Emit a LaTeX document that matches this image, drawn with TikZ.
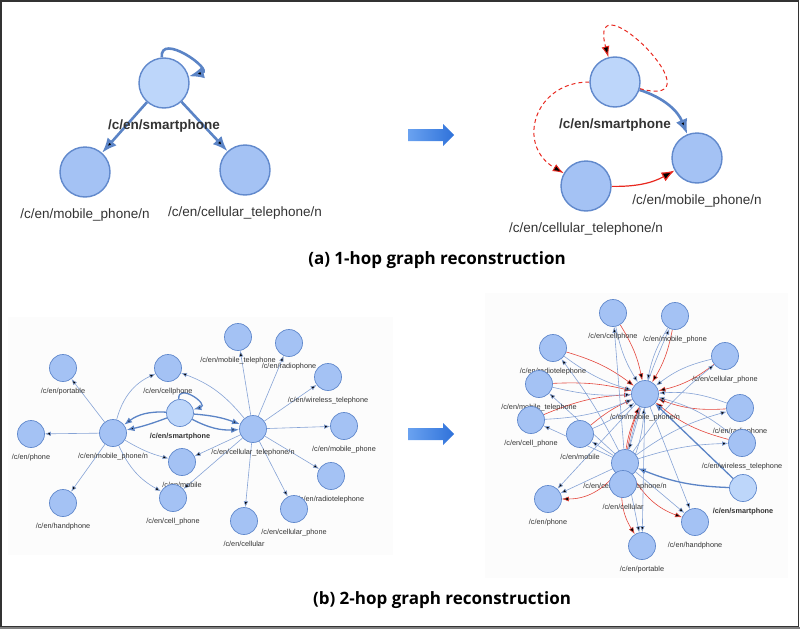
\documentclass[tikz,border=0pt]{standalone}
\usepackage{fontspec}
\setmainfont{Liberation Sans}
\newfontfamily\capfont{Open Sans}
\usetikzlibrary{arrows.meta,backgrounds}

\definecolor{nodefill}{HTML}{A4C2F4}
\definecolor{nodelite}{HTML}{BDD6FA}
\definecolor{nodeline}{HTML}{6189CC}
\definecolor{edgeblue}{HTML}{5B84C6}
\definecolor{thinblue}{HTML}{86A3D6}
\definecolor{predred}{HTML}{E8281F}
\definecolor{thinred}{HTML}{E4463C}
\definecolor{labeltext}{HTML}{333333}
\definecolor{panel}{HTML}{FCFCFC}
\definecolor{arrowhi}{HTML}{6AA2F0}
\definecolor{arrowlo}{HTML}{2F72DA}

\begin{document}
\begin{tikzpicture}[x=1pt, y=1pt,
    big/.style={circle, draw=nodeline, fill=nodefill, line width=1.4pt,
      minimum size=50pt, inner sep=0pt},
    small/.style={circle, draw=nodeline, fill=nodefill, line width=0.7pt,
      minimum size=27pt, inner sep=0pt},
    lite/.style={fill=nodelite},
    lbig/.style={font=\fontsize{13.5}{15}\selectfont, text=labeltext, inner sep=0pt,
      yshift=-11pt},
    lbigb/.style={lbig, font=\fontsize{13.5}{15}\selectfont\bfseries},
    lsmall/.style={font=\fontsize{7.3}{8}\selectfont, text=labeltext, inner sep=0pt,
      yshift=-6pt},
    lsmallb/.style={lsmall, font=\fontsize{7.3}{8}\selectfont\bfseries},
    captxt/.style={font=\capfont\bfseries\fontsize{17}{20}\selectfont, inner sep=0pt},
    orig/.style={draw=edgeblue, line width=2.6pt, -{Latex[length=15pt,width=12pt]}},
    predd/.style={draw=predred, line width=1pt, dash pattern=on 4pt off 3pt,
      -{Latex[length=11pt,width=8pt]}},
    preds/.style={draw=predred, line width=1.2pt, -{Latex[length=13pt,width=10pt]}},
    thinb/.style={draw=thinblue, line width=0.6pt, -{Latex[length=6pt,width=4.5pt]}},
    thinr/.style={draw=thinred, line width=0.6pt, -{Latex[length=7pt,width=5pt]}},
    thickb/.style={draw=edgeblue, line width=1.3pt, -{Latex[length=8pt,width=6pt]}}]

  \useasboundingbox (0,0) rectangle (800,-629);

  % (a) input graph
  \node[big, lite, label={[lbigb]below:/c/en/smartphone}] (sp1) at (164,-83) {};
  \node[big, label={[lbig]below:/c/en/mobile\_phone/n}] (mp1) at (85,-172) {};
  \node[big, label={[lbig]below:/c/en/cellular\_telephone/n}] (ct1) at (245,-170) {};

  % (a) reconstruction
  \node[big, lite, label={[lbigb]below:/c/en/smartphone}] (sp2) at (615,-82) {};
  \node[big, label={[lbig]below:/c/en/mobile\_phone/n}] (mp2) at (697,-158) {};
  \node[big, label={[lbig]below:/c/en/cellular\_telephone/n}] (ct2) at (586,-186) {};

  \node[captxt] (capa) at (437,-260) {(a) 1-hop graph reconstruction};

  % (b) input graph
  \node[small, label={[lsmall]below:/c/en/portable}] (bpor) at (63,-368) {};
  \node[small, label={[lsmall]below:/c/en/phone}] (bpho) at (31,-434) {};
  \node[small, label={[lsmall]below:/c/en/mobile\_phone/n}] (bmpn) at (113,-433) {};
  \node[small, label={[lsmall]below:/c/en/handphone}] (bhan) at (63,-503) {};
  \node[small, label={[lsmall]below:/c/en/cellphone}] (bcph) at (168,-368) {};
  \node[small, lite, label={[lsmallb]below:/c/en/smartphone}] (bsp) at (180,-413) {};
  \node[small, label={[lsmall]below:/c/en/mobile}] (bmob) at (182,-462) {};
  \node[small, label={[lsmall]below:/c/en/cell\_phone}] (bcel) at (173,-498) {};
  \node[small, label={[lsmall]below:/c/en/cellular\_telephone/n}] (bctn) at (253,-429) {};
  \node[small, label={[lsmall]below:/c/en/mobile\_telephone}] (bmtl) at (238,-337) {};
  \node[small, label={[lsmall]below:/c/en/radiophone}] (brdp) at (289,-343) {};
  \node[small, label={[lsmall]below:/c/en/wireless\_telephone}] (bwtl) at (328,-377) {};
  \node[small, label={[lsmall]below:/c/en/mobile\_phone}] (bmph) at (344,-426) {};
  \node[small, label={[lsmall]below:/c/en/radiotelephone}] (brdt) at (331,-476) {};
  \node[small, label={[lsmall]below:/c/en/cellular\_phone}] (bcep) at (294,-509) {};
  \node[small, label={[lsmall]below:/c/en/cellular}] (bcll) at (244,-521) {};

  % (b) reconstruction
  \node[small, label={[lsmall]below:/c/en/cellphone}] (rcph) at (613,-313) {};
  \node[small, label={[lsmall]below:/c/en/mobile\_phone}] (rmph) at (675,-316) {};
  \node[small, label={[lsmall]below:/c/en/radiotelephone}] (rrdt) at (553,-348) {};
  \node[small, label={[lsmall]below:/c/en/cellular\_phone}] (rcep) at (725,-356) {};
  \node[small, label={[lsmall]below:/c/en/mobile\_telephone}] (rmtl) at (539,-384) {};
  \node[small, label={[lsmall]below:/c/en/mobile\_phone/n}] (rhub) at (645,-394) {};
  \node[small, label={[lsmall]below:/c/en/radiophone}] (rrdp) at (740,-408) {};
  \node[small, label={[lsmall]below:/c/en/cell\_phone}] (rcel) at (531,-420) {};
  \node[small, label={[lsmall]below:/c/en/mobile}] (rmob) at (580,-434) {};
  \node[small, label={[lsmall]below:/c/en/wireless\_telephone}] (rwtl) at (742,-443) {};
  \node[small, label={[lsmall]below:/c/en/cellular\_telephone/n}] (rctn) at (625,-463) {};
  \node[small, label={[lsmall]below:/c/en/cellular}] (rcll) at (623,-484) {};
  \node[small, lite, label={[lsmallb]below:/c/en/smartphone}] (rsp) at (743,-488) {};
  \node[small, label={[lsmall]below:/c/en/phone}] (rpho) at (548,-499) {};
  \node[small, label={[lsmall]below:/c/en/handphone}] (rhan) at (695,-522) {};
  \node[small, label={[lsmall]below:/c/en/portable}] (rpor) at (642,-546) {};

  \node[captxt] (capb) at (442,-600) {(b) 2-hop graph reconstruction};

  % block arrows between the panels
  \shade[left color=arrowhi, right color=arrowlo]
    (408,-129) -- (443,-129) -- (443,-124) -- (454,-135) -- (443,-146)
    -- (443,-141) -- (408,-141) -- cycle;
  \shade[left color=arrowhi, right color=arrowlo]
    (408,-428) -- (443,-428) -- (443,-423) -- (454,-434) -- (443,-445)
    -- (443,-440) -- (408,-440) -- cycle;

  \begin{scope}[on background layer]
    \fill[panel] (8,-317) rectangle (393,-555);
    \fill[panel] (485,-293) rectangle (788,-578);

    \path[orig]
      (sp1) edge (mp1)
      (sp1) edge (ct1)
      (sp1) edge[out=95, in=15, looseness=2] (sp1)
      (sp2) edge[bend left=25] (mp2);
    \path[predd]
      (sp2) edge[out=-15, in=105, looseness=5] (sp2)
      (sp2) edge[out=180, in=150, looseness=1.5] (ct2);
    \path[preds]
      (ct2) edge[bend right=15] (mp2);

    \path[thinb]
      (bmpn) edge (bpor)
      (bmpn) edge (bpho)
      (bmpn) edge (bhan)
      (bmpn) edge[bend left=25] (bcph)
      (bmpn) edge[bend right=8] (bmob)
      (bmpn) edge[bend right=18] (bcel)
      (bctn) edge[bend right=15] (bcph)
      (bctn) edge (bmob)
      (bctn) edge (bcel)
      (bctn) edge (bmtl)
      (bctn) edge (brdp)
      (bctn) edge (bwtl)
      (bctn) edge (bmph)
      (bctn) edge (brdt)
      (bctn) edge (bcep)
      (bctn) edge (bcll);
    \path[thickb]
      (bsp) edge[bend right=20] (bmpn)
      (bsp) edge[bend left=4] (bmpn)
      (bsp) edge[bend left=8] (bctn)
      (bsp) edge[bend right=15] (bctn)
      (bsp) edge[out=95, in=15, looseness=2.5] (bsp);

    \path[thinr]
      (rcph) edge[bend left=10] (rhub)
      (rmph) edge[bend left=10] (rhub)
      (rrdt) edge[bend left=10] (rhub)
      (rcep) edge[bend left=12] (rhub)
      (rmtl) edge[bend left=8] (rhub)
      (rrdp) edge[bend left=12] (rhub)
      (rcel) edge[bend left=10] (rhub)
      (rmob) edge[bend left=8] (rhub)
      (rwtl) edge[bend left=12] (rhub)
      (rctn) edge[bend left=6] (rhub)
      (rcll) edge[bend left=10] (rhub)
      (rctn) edge[bend left=25] (rpho)
      (rctn) edge[bend right=20] (rpor)
      (rctn) edge[bend right=20] (rhan);
    \path[thinb]
      (rcph) edge[bend right=10] (rhub)
      (rmph) edge[bend right=10] (rhub)
      (rrdt) edge[bend right=10] (rhub)
      (rcep) edge[bend right=12] (rhub)
      (rmtl) edge[bend right=8] (rhub)
      (rrdp) edge[bend right=12] (rhub)
      (rcel) edge[bend right=10] (rhub)
      (rmob) edge[bend right=8] (rhub)
      (rwtl) edge[bend right=12] (rhub)
      (rcll) edge[bend right=10] (rhub)
      (rctn) edge (rcph)
      (rctn) edge[bend left=5] (rmph)
      (rctn) edge[bend right=5] (rrdt)
      (rctn) edge (rmtl)
      (rctn) edge[bend left=8] (rcep)
      (rctn) edge[bend left=10] (rrdp)
      (rctn) edge[bend left=8] (rwtl)
      (rctn) edge (rcel)
      (rctn) edge (rmob)
      (rctn) edge (rpho)
      (rctn) edge (rpor)
      (rctn) edge (rhan)
      (rhub) edge (rpho)
      (rhub) edge (rpor)
      (rhub) edge (rhan)
      (rhub) edge (rctn);
    \path[thickb]
      (rsp) edge[bend left=10] (rctn)
      (rsp) edge (rhub);
  \end{scope}

  % frame
  \draw[black!80, line width=1.2pt] (1,-1) rectangle (798.5,-627);
  \draw[gray, line width=2.5pt] (0,-627.8) -- (800,-627.8);
\end{tikzpicture}
\end{document}
